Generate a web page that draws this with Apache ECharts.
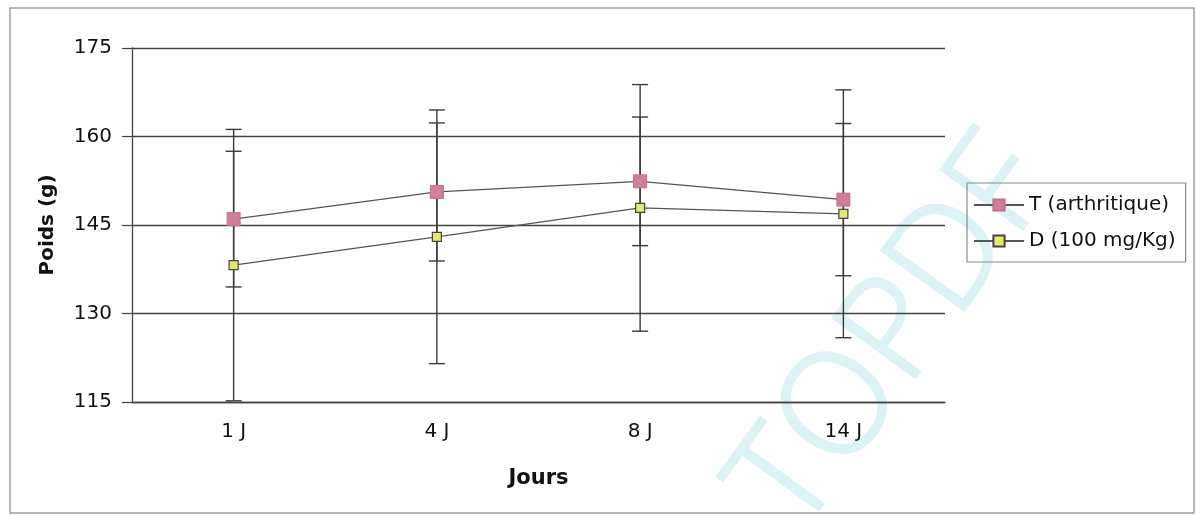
<!DOCTYPE html>
<html>
<head>
<meta charset="utf-8">
<script src="https://cdn.jsdelivr.net/npm/echarts@6/dist/echarts.min.js"></script>
<style>
html,body{margin:0;padding:0;background:#fff;}
#chart{width:1197px;height:516px;}
</style>
</head>
<body>
<div id="chart"></div>
<script>
var categories = ['1 J', '4 J', '8 J', '14 J'];
var tName = 'T (arthritique)';
var dName = 'D (100 mg/Kg)';
var tMean = [146.0, 150.6, 152.4, 149.3];
var tErr = [11.5, 11.7, 10.9, 12.9];
var dMean = [138.2, 143.0, 147.9, 146.9];
var dErr = [23.0, 21.5, 20.9, 21.0];
var yTicks = [115, 130, 145, 160, 175];

var FONT = 'DejaVu Sans';

function errData(mean, err) {
  return mean.map(function (m, i) { return [i, m - err[i], m + err[i]]; });
}

function errRender(params, api) {
  var x = api.value(0);
  var lo = api.coord([x, api.value(1)]);
  var hi = api.coord([x, api.value(2)]);
  var hw = 8;
  var st = { stroke: '#3a3a3a', lineWidth: 1.4 };
  return {
    type: 'group',
    children: [
      { type: 'line', shape: { x1: lo[0], y1: lo[1], x2: hi[0], y2: hi[1] }, style: st },
      { type: 'line', shape: { x1: lo[0] - hw, y1: lo[1], x2: lo[0] + hw, y2: lo[1] }, style: st },
      { type: 'line', shape: { x1: hi[0] - hw, y1: hi[1], x2: hi[0] + hw, y2: hi[1] }, style: st }
    ]
  };
}

var chart = echarts.init(document.getElementById('chart'), null, { renderer: 'canvas' });
chart.setOption({
  animation: false,
  backgroundColor: '#ffffff',
  textStyle: { fontFamily: FONT },
  graphic: [
    { type: 'rect', shape: { x: 10, y: 8, width: 1184, height: 505 }, style: { fill: 'none', stroke: '#a0a0a0', lineWidth: 1.5 }, z: -5 },
    { type: 'text', x: 895, y: 336, rotation: 54 * Math.PI / 180, z: -4,
      style: { text: 'TOPDF', fontSize: 142, fontFamily: 'Open Sans', fontWeight: 300, fill: '#dcf2f4', stroke: '#dcf2f4', lineWidth: 3, align: 'center', verticalAlign: 'middle' } }
  ],
  grid: { left: 132, right: 252, top: 48, bottom: 114, containLabel: false },
  legend: {
    orient: 'vertical',
    left: 967, top: 183,
    padding: [12, 10, 11, 6],
    itemGap: 16,
    itemWidth: 50, itemHeight: 14,
    itemTextGap: 4,
    borderColor: '#8a8a8a', borderWidth: 1.2,
    textStyle: { fontFamily: FONT, fontSize: 20, color: '#111' },
    data: [tName, dName]
  },
  xAxis: {
    type: 'category',
    data: categories,
    boundaryGap: true,
    name: 'Jours',
    nameLocation: 'middle',
    nameGap: 66,
    nameTextStyle: { fontFamily: FONT, fontSize: 21, fontWeight: 'bold', color: '#111' },
    axisLine: { show: true, lineStyle: { color: '#444', width: 1.3 } },
    axisTick: { show: false },
    axisLabel: { fontFamily: FONT, fontSize: 20, color: '#111', margin: 20 }
  },
  yAxis: {
    type: 'value',
    min: yTicks[0], max: yTicks[yTicks.length - 1], interval: 15,
    name: 'Poids (g)',
    nameLocation: 'middle',
    nameGap: 74,
    nameRotate: 90,
    nameTextStyle: { fontFamily: FONT, fontSize: 20, fontWeight: 'bold', color: '#111' },
    axisLine: { show: true, lineStyle: { color: '#444', width: 1.3 } },
    axisTick: { show: true, length: 10, inside: false, lineStyle: { color: '#444', width: 1.2 } },
    axisLabel: { fontFamily: FONT, fontSize: 20, color: '#111', margin: 20 },
    splitLine: { show: true, lineStyle: { color: '#444', width: 1.3 } }
  },
  series: [
    {
      name: tName, type: 'line', data: tMean, z: 4,
      symbol: 'rect', symbolSize: 13,
      lineStyle: { color: '#555', width: 1.3 },
      itemStyle: { color: '#cf7f98', borderColor: '#c0708a', borderWidth: 1 }
    },
    {
      name: dName, type: 'line', data: dMean, z: 4,
      symbol: 'rect', symbolSize: 9,
      lineStyle: { color: '#555', width: 1.3 },
      itemStyle: { color: '#e6ea6a', borderColor: '#444', borderWidth: 1.2 }
    },
    { name: tName + ' err', type: 'custom', data: errData(tMean, tErr), renderItem: errRender, z: 3, silent: true },
    { name: dName + ' err', type: 'custom', data: errData(dMean, dErr), renderItem: errRender, z: 3, silent: true }
  ]
});
</script>
</body>
</html>
